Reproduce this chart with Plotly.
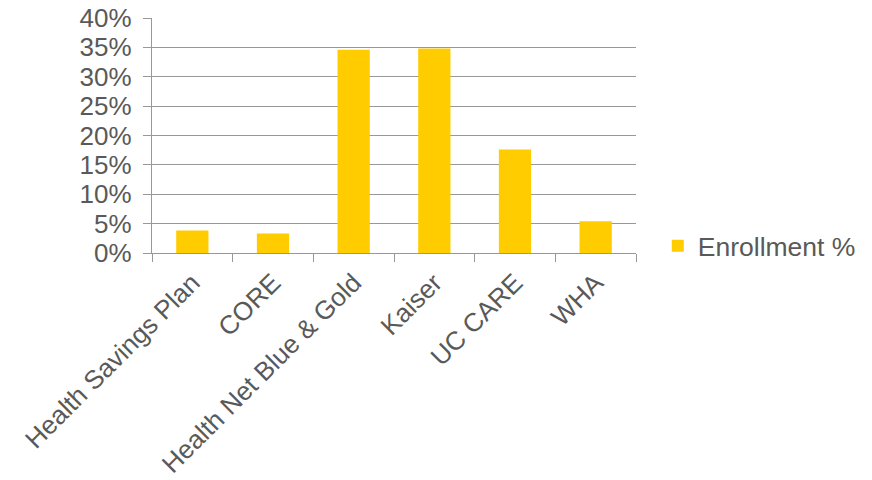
import plotly.graph_objects as go

categories = ["Health Savings Plan", "CORE", "Health Net Blue & Gold", "Kaiser", "UC CARE", "WHA"]
enrollment = [0.0385, 0.033, 0.346, 0.348, 0.176, 0.054]
series_name = "Enrollment %"

TEXT = "#595959"
GRID = "#989898"
FONT = "Liberation Sans, Arial, sans-serif"

fig = go.Figure()
fig.add_trace(go.Bar(
    x=categories, y=enrollment, name=series_name,
    marker=dict(color="#FFCC00", line=dict(width=0)),
    showlegend=True,
))

fig.update_layout(
    width=872, height=480,
    margin=dict(l=152, r=236, t=18, b=227, autoexpand=False),
    paper_bgcolor="white", plot_bgcolor="white",
    font=dict(family=FONT, size=26, color=TEXT),
    bargap=0.6,
    showlegend=True,
    legend=dict(x=1.045, y=0.03, xanchor="left", yanchor="middle",
                font=dict(size=26.5, color=TEXT, family=FONT),
                itemwidth=30, bgcolor="rgba(0,0,0,0)",
                traceorder="normal"),
)

fig.update_xaxes(
    type="category", tickangle=-45, automargin=False,
    showline=True, linecolor=GRID, linewidth=1.3,
    ticks="outside", tickson="boundaries", ticklen=8, tickcolor=GRID, tickwidth=1.3,
    showgrid=False, ticklabelstandoff=3,
    tickfont=dict(size=26, color=TEXT, family=FONT),
)
fig.update_yaxes(
    range=[0, 0.4], dtick=0.05, tickformat=".0%", automargin=False,
    showline=True, linecolor=GRID, linewidth=1.3,
    ticks="outside", ticklen=8, tickcolor=GRID, tickwidth=1.3,
    showgrid=True, gridcolor=GRID, gridwidth=1.3,
    zeroline=False, ticklabelstandoff=6,
    tickfont=dict(size=26, color=TEXT, family=FONT),
)

fig.write_html("out.html")
